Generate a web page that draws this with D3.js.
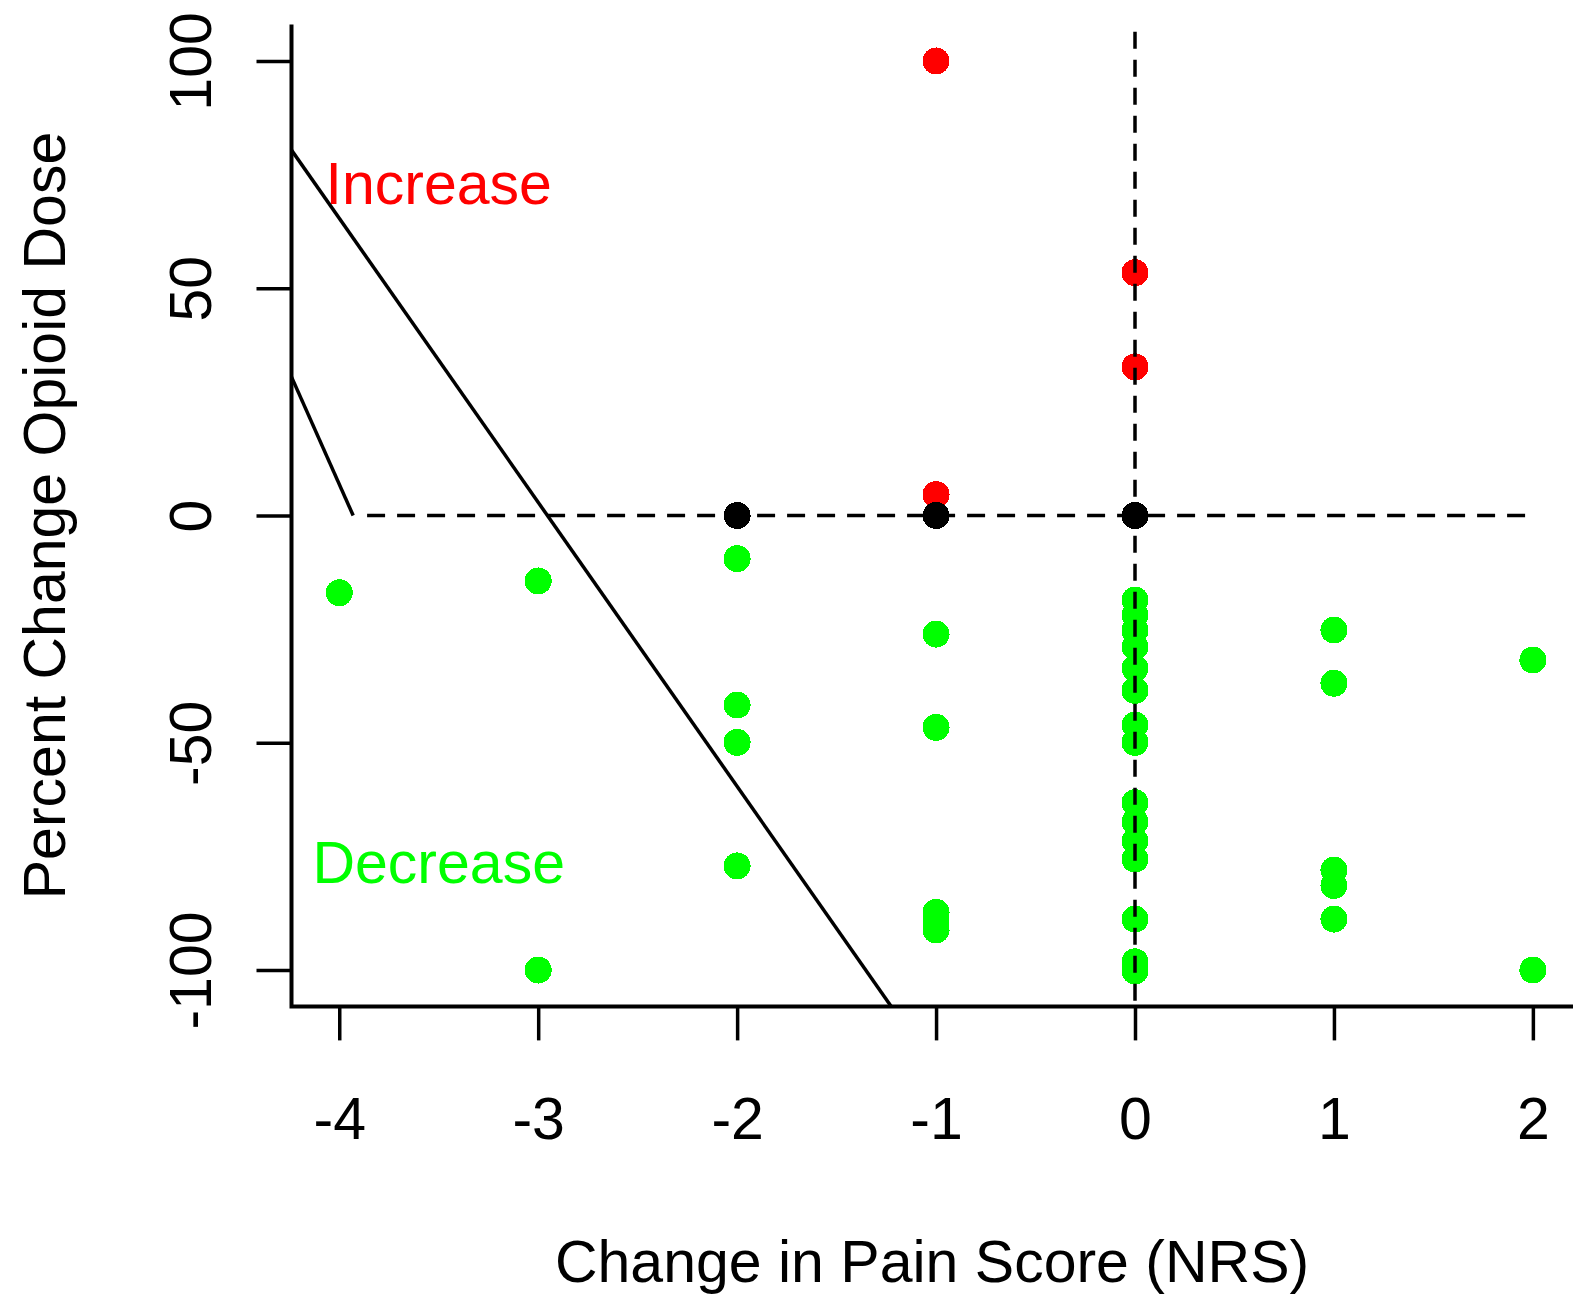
<!DOCTYPE html>
<html>
<head>
<meta charset="utf-8">
<script src="https://cdn.jsdelivr.net/npm/d3@7"></script>
<style>
  html, body { margin: 0; padding: 0; background: #fff; }
  svg { display: block; font-family: "Liberation Sans", Arial, sans-serif; }
</style>
</head>
<body>
<svg id="chart" width="1573" height="1299"></svg>
<script>
// Chart data (x = change in pain score, y = percent change opioid dose)
var xTicks = [-4, -3, -2, -1, 0, 1, 2];
var yTicks = [-100, -50, 0, 50, 100];

var increasePoints = [[-1, 100], [-1, 4.6], [0, 53.4], [0, 32.7]];
var noChangePoints = [[-2, 0], [-1, 0], [0, 0]];
var decreasePoints = [
  [-4, -17],
  [-3, -14.4], [-3, -100],
  [-2, -9.5], [-2, -41.7], [-2, -49.9], [-2, -77.1],
  [-1, -26.1], [-1, -46.6], [-1, -87.3], [-1, -89.2], [-1, -91.2],
  [0, -18.6], [0, -21.9], [0, -25.3], [0, -28.9], [0, -33.6], [0, -38.5],
  [0, -46.1], [0, -49.9], [0, -63.2], [0, -67.4], [0, -71.6], [0, -75.6],
  [0, -88.8], [0, -98.2], [0, -100.2],
  [1, -25.2], [1, -36.9], [1, -78], [1, -81.4], [1, -88.8],
  [2, -31.8], [2, -100]
];

// reference lines
var mainLine = { intercept: -184.6, slope: -62.5 };
var shortLine = [[-4.24, 30.5], [-3.93, 0]];
var zeroDoseLine = [[-3.86, 0], [2, 0]];
var zeroPainLine = [[0, 106.4], [0, -108]];

var labels = [
  { text: 'Increase', x: -3.5, y: 73.1, color: '#ff0000' },
  { text: 'Decrease', x: -3.5, y: -76.2, color: '#00ff00' }
];

(function (d3) {
  'use strict';
  var svg = d3.select('#chart');
  var fontSize = 59;
  var plain = function (d) { return String(d); };

  var x = d3.scaleLinear().domain([-4.24, 0]).range([291.5, 1135]);
  var y = d3.scaleLinear().domain([-108, 108]).range([1006.4, 24.6]);
  var xMax = 2.24;

  var plot = svg.append('g');
  svg.append('clipPath').attr('id', 'plot-clip')
    .append('rect')
    .attr('x', x(-4.24)).attr('y', y(108))
    .attr('width', x(xMax) - x(-4.24)).attr('height', y(-108) - y(108));

  /** Points */
  var drawPoints = function (data, color) {
    plot.append('g').selectAll('circle').data(data).enter().append('circle')
      .attr('cx', function (d) { return x(d[0]); })
      .attr('cy', function (d) { return y(d[1]); })
      .attr('r', 13.5)
      .attr('fill', color)
      .attr('shape-rendering', 'crispEdges');
  };
  drawPoints(decreasePoints, '#00ff00');
  drawPoints(increasePoints, '#ff0000');
  drawPoints(noChangePoints, '#000000');

  /** Lines */
  var line = d3.line()
    .x(function (d) { return x(d[0]); })
    .y(function (d) { return y(d[1]); });

  var lines = svg.append('g').attr('clip-path', 'url(#plot-clip)')
    .attr('fill', 'none').attr('stroke', '#000');

  var xs = [-4.24, xMax];
  lines.append('path')
    .attr('d', line(xs.map(function (v) { return [v, mainLine.intercept + mainLine.slope * v]; })))
    .attr('stroke-width', 3.5);
  lines.append('path').attr('d', line(shortLine)).attr('stroke-width', 3.5);
  lines.append('path').attr('d', line(zeroDoseLine))
    .attr('stroke-width', 3.5).attr('stroke-dasharray', '18,12');
  lines.append('path').attr('d', line(zeroPainLine))
    .attr('stroke-width', 3.5).attr('stroke-dasharray', '17,11');

  /** Axes */
  var xAxis = svg.append('g').attr('transform', 'translate(0,' + y(-108) + ')')
    .call(d3.axisBottom(x).tickValues(xTicks).tickSize(34).tickFormat(plain));
  xAxis.select('.domain').remove();
  xAxis.selectAll('line').attr('stroke-width', 3.5);
  xAxis.selectAll('text')
    .attr('y', 133).attr('dy', 0)
    .attr('font-size', fontSize).attr('font-family', 'Liberation Sans, Arial, sans-serif')
    .attr('fill', '#000');

  var yAxis = svg.append('g').attr('transform', 'translate(' + x(-4.24) + ',0)')
    .call(d3.axisLeft(y).tickValues(yTicks).tickSize(35).tickFormat(plain));
  yAxis.select('.domain').remove();
  yAxis.selectAll('line').attr('stroke-width', 3.5);
  yAxis.selectAll('text')
    .attr('x', 0).attr('y', -81).attr('dy', 0)
    .attr('transform', 'rotate(-90)')
    .attr('text-anchor', 'middle')
    .attr('font-size', fontSize).attr('font-family', 'Liberation Sans, Arial, sans-serif')
    .attr('fill', '#000');

  // L-shaped box
  svg.append('path')
    .attr('d', 'M' + x(-4.24) + ',' + y(108) + 'V' + y(-108) + 'H' + x(xMax))
    .attr('fill', 'none').attr('stroke', '#000').attr('stroke-width', 4);

  /** Titles */
  svg.append('text')
    .attr('x', (x(-4.24) + x(xMax)) / 2 - 4).attr('y', 1282)
    .attr('text-anchor', 'middle').attr('font-size', fontSize)
    .text('Change in Pain Score (NRS)');

  svg.append('text')
    .attr('transform', 'translate(64.5,' + y(0) + ') rotate(-90)')
    .attr('text-anchor', 'middle').attr('font-size', fontSize)
    .text('Percent Change Opioid Dose');

  /** Region labels */
  svg.append('g').selectAll('text').data(labels).enter().append('text')
    .attr('x', function (d) { return x(d.x); })
    .attr('y', function (d) { return y(d.y); })
    .attr('dy', '0.36em')
    .attr('text-anchor', 'middle')
    .attr('font-size', fontSize)
    .attr('fill', function (d) { return d.color; })
    .text(function (d) { return d.text; });
})(d3);
</script>
</body>
</html>
